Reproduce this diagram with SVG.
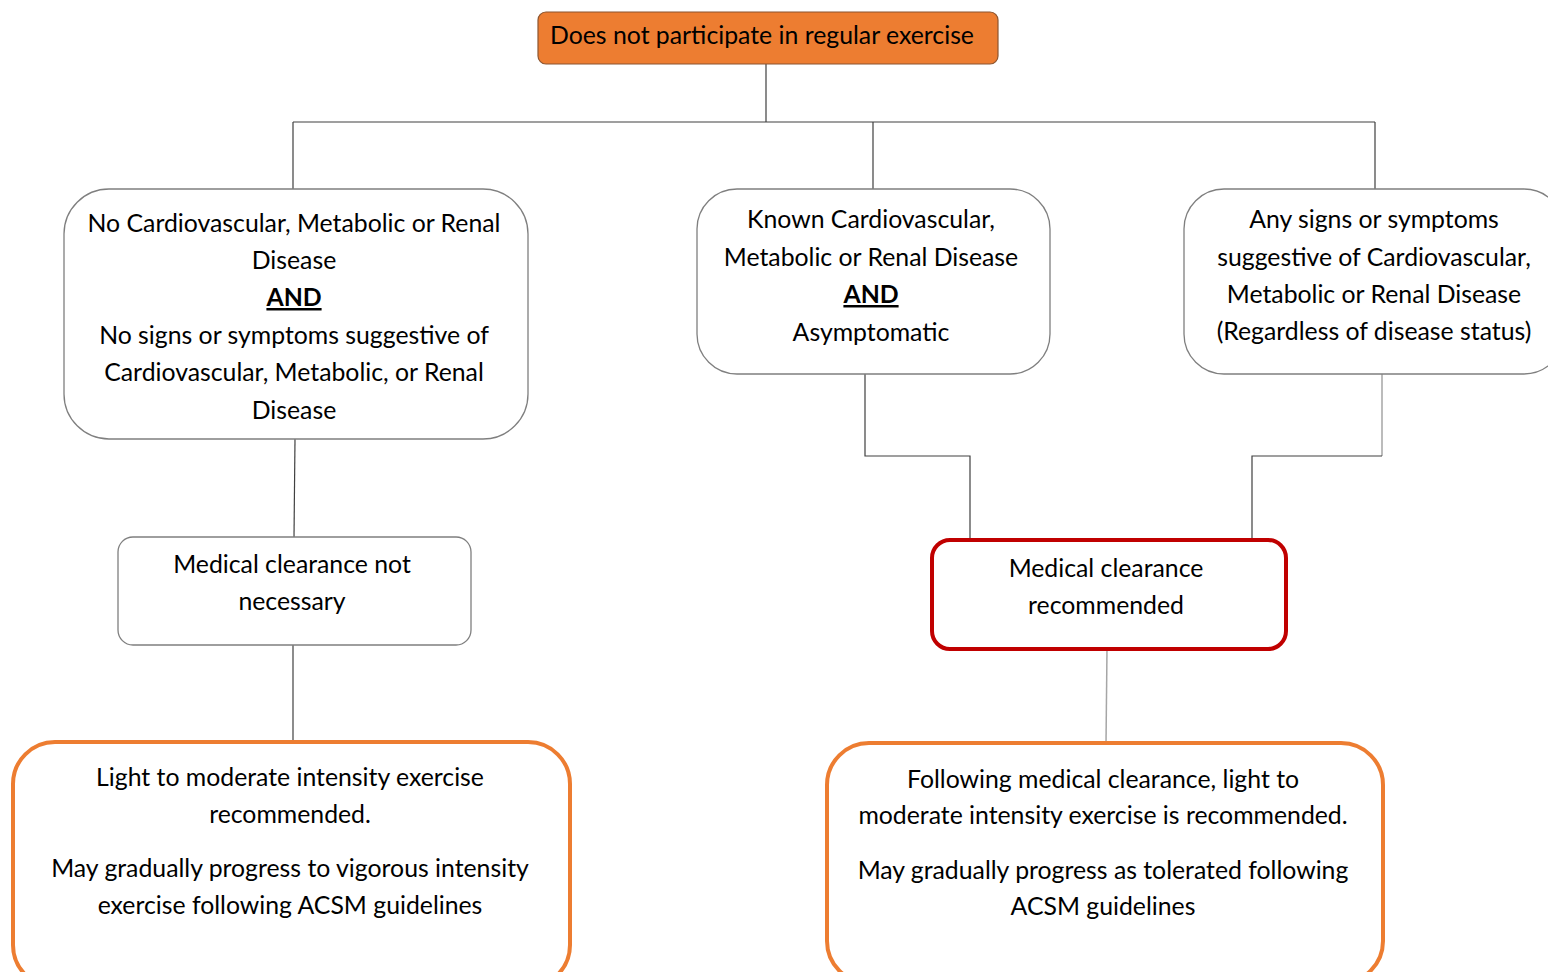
<svg xmlns="http://www.w3.org/2000/svg" width="1548" height="972" viewBox="0 0 1548 972">
<style>
text{font-family:Lato,"Open Sans","Liberation Sans",sans-serif;font-size:24.8px;fill:#000;text-anchor:middle}
.b{font-weight:bold;text-decoration:underline}
.n{fill:#fff;stroke:#7f7f7f;stroke-width:1.3}
.red{fill:#fff;stroke:#C00000;stroke-width:4}
.org{fill:#fff;stroke:#ED7D31;stroke-width:4}
.c{fill:none;stroke:#404040;stroke-width:1.2}
.cg{fill:none;stroke:#a6a6a6;stroke-width:1.5}
</style>
<rect width="1548" height="972" fill="#fff"/>
<g id="connectors">
<path class="c" d="M766 64V122M293 122H1375M293 122V189M873 122V189M1375 122V189"/>
<path class="c" d="M295 439L294 537"/>
<path class="c" d="M865 374V456H970V539"/>
<path class="cg" d="M1382 374V456"/>
<path class="c" d="M1382 456H1252V539"/>
<path class="c" d="M293 645V742"/>
<path class="cg" d="M1107 649L1106 743"/>
</g>
<g id="top">
<rect x="538" y="12" width="460" height="52" rx="8" fill="#ED7D31" stroke="#8c5530" stroke-width="1.2"/>
<text x="762" y="44">Does not participate in regular exercise</text>
</g>
<g id="noDisease">
<rect class="n" x="64" y="189" width="464" height="250" rx="45"/>
<text x="294" y="232">No Cardiovascular, Metabolic or Renal</text>
<text x="294" y="269">Disease</text>
<text x="294" y="306" class="b">AND</text>
<text x="294" y="344">No signs or symptoms suggestive of</text>
<text x="294" y="381">Cardiovascular, Metabolic, or Renal</text>
<text x="294" y="419">Disease</text>
</g>
<g id="knownDisease">
<rect class="n" x="697" y="189" width="353" height="185" rx="40"/>
<text x="871" y="228">Known Cardiovascular,</text>
<text x="871" y="266">Metabolic or Renal Disease</text>
<text x="871" y="303" class="b">AND</text>
<text x="871" y="341">Asymptomatic</text>
</g>
<g id="signs">
<rect class="n" x="1184" y="189" width="380" height="185" rx="40"/>
<text x="1374" y="228">Any signs or symptoms</text>
<text x="1374" y="266">suggestive of Cardiovascular,</text>
<text x="1374" y="303">Metabolic or Renal Disease</text>
<text x="1374" y="340">(Regardless of disease status)</text>
</g>
<g id="notNecessary">
<rect class="n" x="118" y="537" width="353" height="108" rx="15"/>
<text x="292" y="573">Medical clearance not</text>
<text x="292" y="610">necessary</text>
</g>
<g id="recommended">
<rect class="red" x="932" y="540" width="354" height="109" rx="18"/>
<text x="1106" y="577">Medical clearance</text>
<text x="1106" y="614">recommended</text>
</g>
<g id="lightModerate">
<rect class="org" x="13" y="742" width="557" height="245" rx="42"/>
<text x="290" y="786">Light to moderate intensity exercise</text>
<text x="290" y="823">recommended.</text>
<text x="290" y="877">May gradually progress to vigorous intensity</text>
<text x="290" y="914">exercise following ACSM guidelines</text>
</g>
<g id="followingClearance">
<rect class="org" x="827" y="743" width="556" height="240" rx="42"/>
<text x="1103" y="788">Following medical clearance, light to</text>
<text x="1103" y="824">moderate intensity exercise is recommended.</text>
<text x="1103" y="879">May gradually progress as tolerated following</text>
<text x="1103" y="915">ACSM guidelines</text>
</g>
</svg>
